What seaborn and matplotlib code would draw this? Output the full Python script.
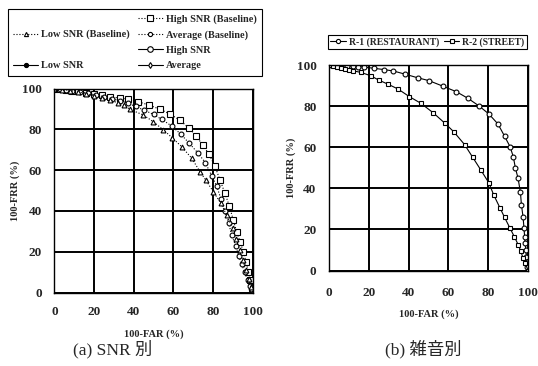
import matplotlib
matplotlib.use("Agg")
import matplotlib.pyplot as plt
from matplotlib.lines import Line2D
import seaborn as sns
import pandas as pd

# ---- data: (a) SNR別 ----
high_base_x = [0, 3, 6, 9, 12, 16, 20, 24, 28, 33, 37, 42.3, 47.7, 53.3, 58.3, 63.4, 68, 71.5, 74.8, 78,
               81, 83.6, 86.1, 88.3, 90.3, 92, 93.7, 95.4, 96.7, 97.9, 98.7, 99.6, 100]
high_base_y = [100, 99.7, 99.4, 99, 98.6, 98, 97.3, 96.8, 96, 95.3, 94.9, 93.5, 91.9, 89.8, 87.5, 84.4, 80.5, 76.9, 72.3, 67.9,
               62, 55.1, 48.6, 42.4, 35.5, 29.8, 24.9, 20, 15.1, 10.2, 6.1, 2, 0]

avg_base_x = [0, 3, 6, 9, 13, 17, 21, 25, 29, 33, 37, 41, 45, 50, 54.1, 59.2, 63.7, 68.1, 72.6, 76.2,
              79.5, 82, 84, 86, 88, 89.5, 91.5, 93, 94.5, 96, 97.5, 98.5, 99.5, 100]
avg_base_y = [100, 99.6, 99.2, 98.8, 98.3, 97.6, 96.8, 96, 95, 94, 92.8, 91.2, 89.5, 87.3, 84.9, 81.6, 77.7, 73.1, 68.2, 63.6,
              57, 52, 46, 40, 34, 28, 23, 18, 14, 10, 6, 3, 1, 0]

low_base_x = [0, 4, 8, 12, 16, 20, 24, 28, 32, 35, 38, 44.9, 49.9, 55, 59.5, 64.2, 69.3, 73.5, 76.5, 80.2,
              83.9, 86.9, 90, 91.8, 93.5, 95, 96.5, 98, 99.2, 100]
low_base_y = [100, 99.5, 99, 98.3, 97.5, 96.5, 95.5, 94.3, 93, 92, 89.8, 87, 83.7, 79.7, 75.8, 71.5, 65.8, 59.2, 55, 49.4,
              44, 38, 31.5, 26, 21, 16, 11, 6.5, 2.5, 0]

legend_a = ["High SNR (Baseline)", "Low SNR (Baseline)", "Average (Baseline)",
            "High SNR", "Low SNR", "Average"]

# ---- data: (b) 雑音別 ----
r1_x = [0, 3, 6.2, 9, 11.9, 14.7, 17.6, 22.5, 27.4, 32.3, 38, 44.5, 50.2, 57.2, 64, 69.8, 75.5, 80.3, 84.9, 88.2,
        91, 92.6, 93.7, 95, 96.2, 96.7, 97.5, 98, 98.3, 98.6, 98.9, 99.2, 99.5, 99.7, 100]
r1_y = [100, 99.9, 99.8, 99.6, 99.5, 99.2, 99, 98.4, 97.8, 97.1, 95.6, 93.8, 92.4, 89.7, 87, 83.8, 80, 76.2, 71.3, 65.4,
        60.2, 55.4, 49.7, 44.9, 38, 31.9, 26.2, 20.5, 16.5, 13.2, 10, 6.7, 4.3, 1.9, 0]

r2_x = [0, 2, 4, 6, 8, 10, 12, 16, 20.9, 24.9, 29.8, 34.7, 40.4, 46.1, 52.3, 58.3, 62.7, 68.1, 72.2, 76.3,
        80.3, 82.8, 86, 88.2, 91, 93.1, 95.1, 96.4, 97.5, 98.6, 100]
r2_y = [100, 99.6, 99.2, 98.7, 98.2, 97.7, 97.2, 96.4, 94.8, 92.7, 90.6, 88.3, 84.6, 81.4, 76.8, 71.6, 67.5, 61.3, 55.1, 48.9,
        42.7, 36.7, 30.3, 25.9, 20.5, 16.5, 12.5, 9.3, 6.1, 3.7, 0]

legend_b = ["R-1 (RESTAURANT)", "R-2 (STREET)"]

ticks = [0, 20, 40, 60, 80, 100]
captions = ["(a) SNR 別", "(b) 雑音別"]

# ---- style ----
sns.set_theme(style="white")
serif = ["Liberation Serif", "Noto Sans CJK JP", "DejaVu Sans"]
plt.rcParams["font.family"] = serif

W, H = 538, 366
fig = plt.figure(figsize=(W / 100, H / 100), dpi=100)

def frac_axes(x0, y0, x1, y1):
    return fig.add_axes([x0 / W, 1 - y1 / H, (x1 - x0) / W, (y1 - y0) / H])

ax_a = frac_axes(54.5, 88.5, 252.5, 292.5)
ax_b = frac_axes(329, 65, 528, 270.5)

def series(ax, x, y, marker, ls, ms=4, mfc="white", lw=0.8):
    df = pd.DataFrame({"x": x, "y": y})
    sns.lineplot(data=df, x="x", y="y", ax=ax, sort=False, estimator=None,
                 color="black", linestyle=ls, linewidth=lw, marker=marker,
                 markersize=ms, markerfacecolor=mfc, markeredgecolor="black",
                 markeredgewidth=0.8)

series(ax_a, high_base_x, high_base_y, "s", ":")
series(ax_a, avg_base_x, avg_base_y, "o", ":", ms=3.5)
series(ax_a, low_base_x, low_base_y, "^", ":", ms=3.5)

series(ax_b, r1_x, r1_y, "o", "-", ms=3.5)
series(ax_b, r2_x, r2_y, "s", "-", ms=3.5)

for ax in (ax_a, ax_b):
    ax.set_xlim(0, 100)
    ax.set_ylim(0, 100)
    ax.set_xticks(ticks)
    ax.set_yticks(ticks)
    ax.set_xticklabels([str(t) for t in ticks], fontsize=9.5, fontweight="bold")
    ax.set_yticklabels([str(t) for t in ticks], fontsize=9.5, fontweight="bold")
    ax.grid(True, color="black", linewidth=1.4)
    ax.set_axisbelow(True)
    for s in ax.spines.values():
        s.set_color("black")
        s.set_linewidth(1.0)
    ax.tick_params(axis="y", length=0, pad=9)
    ax.set_ylabel("100-FRR (%)", fontsize=7.5, fontweight="bold")
    ax.set_xlabel("100-FAR (%)", fontsize=7.5, fontweight="bold")

ax_a.tick_params(axis="x", length=0, pad=10)
ax_b.tick_params(axis="x", length=0, pad=12)
ax_a.yaxis.set_label_coords(-0.172, 0.5)
ax_b.yaxis.set_label_coords(-0.168, 0.5)
ax_a.xaxis.set_label_coords(0.5, -0.18)
ax_b.xaxis.set_label_coords(0.5, -0.19)

# legend (a): two columns, left column sparse
def h(marker, ls, ms=4, mfc="white"):
    return Line2D([], [], color="black", linestyle=ls, linewidth=0.8, marker=marker,
                  markersize=ms, markerfacecolor=mfc, markeredgecolor="black", markeredgewidth=0.8)

blank = Line2D([], [], linestyle="none", marker=None)
handles_a = [blank, h("^", ":", 3), blank, h("o", "-", 3, "black"),
             h("s", ":"), h("o", ":", 3), h("o", "-", 4), h("d", "-", 3)]
labels_a = ["", legend_a[1], "", legend_a[4],
            legend_a[0], legend_a[2], legend_a[3], legend_a[5]]
leg_a = fig.legend(handles_a, labels_a, loc="upper left", bbox_to_anchor=(3 / W, 1 - 4 / H),
                   ncol=2, frameon=True, fancybox=False, edgecolor="black", framealpha=1,
                   prop={"family": serif, "weight": "bold", "size": 7.4},
                   handlelength=2.4, handletextpad=0.3, columnspacing=0.8,
                   labelspacing=0.6, borderpad=0.5)
leg_a.get_frame().set_linewidth(0.8)

handles_b = [h("o", "-", 3), h("s", "-", 3)]
leg_b = fig.legend(handles_b, legend_b, loc="upper left", bbox_to_anchor=(323 / W, 1 - 30 / H),
                   ncol=2, frameon=True, fancybox=False, edgecolor="black", framealpha=1,
                   prop={"family": serif, "weight": "bold", "size": 7},
                   handlelength=1.6, handletextpad=0.3, columnspacing=0.5, borderpad=0.25)
leg_b.get_frame().set_linewidth(0.8)

fig.text(113 / W, 1 - 349 / H, captions[0], ha="center", va="center", fontsize=12.5, family=serif)
fig.text(423 / W, 1 - 349 / H, captions[1], ha="center", va="center", fontsize=12.5, family=serif)

fig.savefig("out.png", dpi=100, facecolor="white")
